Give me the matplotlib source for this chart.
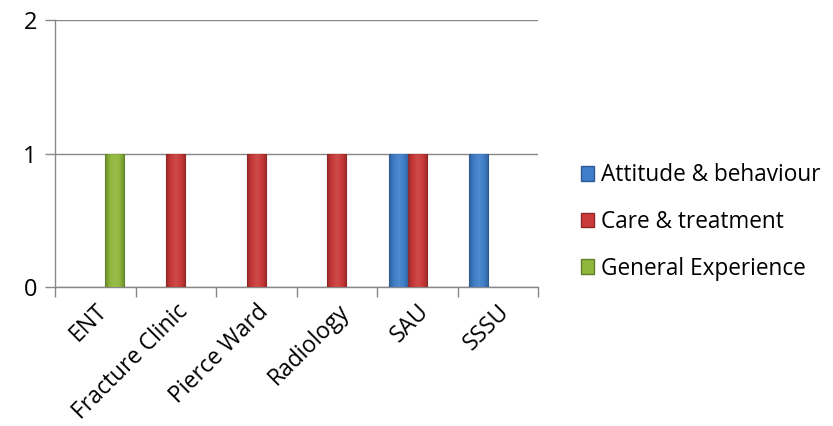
import matplotlib.pyplot as plt
import numpy as np
from matplotlib.patches import Patch
from matplotlib.colors import LinearSegmentedColormap, to_rgb

categories = ["ENT", "Fracture Clinic", "Pierce Ward", "Radiology", "SAU", "SSSU"]
series_names = ["Attitude & behaviour", "Care & treatment", "General Experience"]
attitude = [0, 0, 0, 0, 1, 1]
care = [0, 1, 1, 1, 1, 0]
general = [1, 0, 0, 0, 0, 0]

colors = ["#3f7ec8", "#c93a39", "#90b73c"]
edges = ["#2c5a92", "#8e2626", "#61802a"]

plt.rcParams['font.family'] = ['Open Sans', 'DejaVu Sans']
fs = 17

fig = plt.figure(figsize=(8.33, 4.26), dpi=100)
ax = fig.add_axes([0.066, 0.326, 0.58, 0.627])

x = np.arange(len(categories))
width = 0.236
offsets = [-width, 0, width]


def tint(c, f):
    r = np.array(to_rgb(c))
    return tuple(r + (1 - r) * f)


for values, off, c, ec in zip([attitude, care, general], offsets, colors, edges):
    cmap = LinearSegmentedColormap.from_list("shade", [ec, c, tint(c, 0.12), c, ec])
    for xi, v in zip(x, values):
        if v == 0:
            continue
        bar = ax.bar(xi + off, v, width, color=c, edgecolor=ec, linewidth=0.8, zorder=3)[0]
        # soft horizontal shading across the bar face
        grad = np.linspace(0, 1, 64).reshape(1, -1)
        im = ax.imshow(grad, cmap=cmap, alpha=0.8, aspect="auto", zorder=4,
                       extent=[xi + off - width / 2, xi + off + width / 2, 0, v])
        im.set_clip_path(bar)

ax.set_xlim(-0.5, len(categories) - 0.5)
ax.set_ylim(0, 2)
ax.set_yticks([0, 1, 2])
ax.yaxis.grid(True, color="#888888", linewidth=1)
ax.set_axisbelow(True)

ax.set_xticks(x)
ax.set_xticklabels(categories, rotation=45, ha="right", rotation_mode="anchor", fontsize=16.5)
ax.set_xticks(np.arange(len(categories) + 1) - 0.5, minor=True)
ax.tick_params(axis="x", which="major", length=0, pad=9)
ax.tick_params(axis="x", which="minor", length=7, color="#888888", width=1)
ax.tick_params(axis="y", length=7, color="#888888", width=1, labelsize=fs, pad=6)

for side in ["top", "right"]:
    ax.spines[side].set_visible(False)
for side in ["left", "bottom"]:
    ax.spines[side].set_color("#888888")
    ax.spines[side].set_linewidth(1)

handles = [Patch(facecolor=c, edgecolor=ec) for c, ec in zip(colors, edges)]
fig.legend(handles, series_names, loc="center left", bbox_to_anchor=(0.697, 0.479),
           frameon=False, fontsize=16.3, handlelength=0.6, handleheight=0.6,
           handletextpad=0.3, labelspacing=1.0, borderpad=0, borderaxespad=0)

fig.savefig("out.png", dpi=100)
